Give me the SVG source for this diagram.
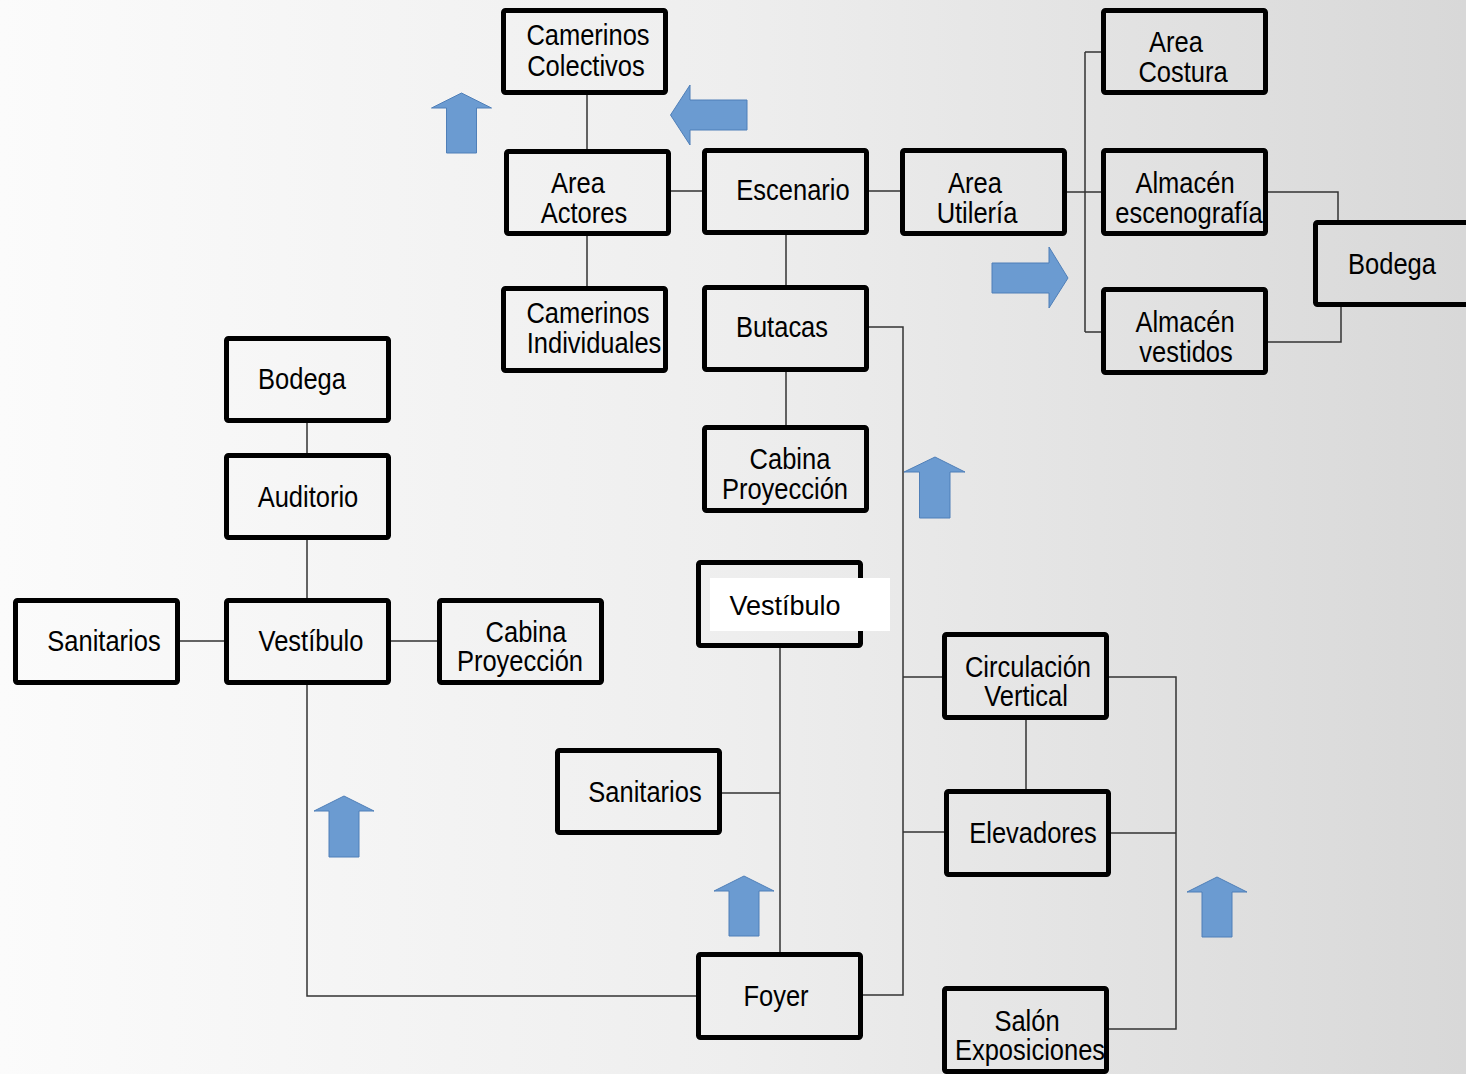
<svg xmlns="http://www.w3.org/2000/svg" width="1466" height="1074" viewBox="0 0 1466 1074">
<defs>
<linearGradient id="bg" x1="0" y1="0" x2="1" y2="0">
<stop offset="0" stop-color="#fbfbfb"/>
<stop offset="0.5" stop-color="#eeeeee"/>
<stop offset="1" stop-color="#d8d8d8"/>
</linearGradient>
<style>
.box{fill:none;stroke:#000;stroke-width:5;}
.t{font-family:"Liberation Sans",Arial,sans-serif;font-size:30px;fill:#000;text-anchor:middle;}
.r{font-family:"Liberation Sans",Arial,sans-serif;font-size:27px;fill:#000;text-anchor:middle;}
.c{fill:none;stroke:#333;stroke-width:1.5;}
.a{fill:#6b9bd1;stroke:#4f7fb8;stroke-width:1;}
</style>
</defs>
<rect x="0" y="0" width="1466" height="1074" fill="url(#bg)"/>

<g id="connectors">
<path class="c" d="M587 95V149M587 236V286M670 191H702M869 191H900M786 235V285M786 372V425"/>
<path class="c" d="M1067 192H1085M1085 52V332M1085 52H1101M1085 192H1101M1085 332H1101"/>
<path class="c" d="M1268 192H1338V220M1268 342H1341V307"/>
<path class="c" d="M869 327H903V995H863M903 677H942M903 832H944"/>
<path class="c" d="M1109 677H1176V1029H1109M1111 833H1176M1026 720V789"/>
<path class="c" d="M780 648V952M722 793H780"/>
<path class="c" d="M307 423V453M307 540V598M180 641H224M391 641H437M307 685V996H696"/>
</g>

<g id="arrows">
<path class="a" d="M461.5 93L491.5 108H476.5V153H446.5V108H431.5Z"/>
<path class="a" d="M670.5 115L690 85V100H747V130H690V145Z"/>
<path class="a" d="M1068 278L1049 247V263H992V293H1049V308Z"/>
<path class="a" d="M935 457L965 472H950V518H919.5V472H904Z"/>
<path class="a" d="M344 796L374 811H359V857H329V811H314Z"/>
<path class="a" d="M744 876L774 891H759V936H729V891H714Z"/>
<path class="a" d="M1217 877L1247 892H1232V937H1202V892H1187Z"/>
</g>

<g id="camerinos-colectivos"><rect class="box" x="503.5" y="10.5" width="162" height="82" rx="2"/>
<text class="t" transform="translate(588 45) scale(0.85 1)">Camerinos</text>
<text class="t" transform="translate(586 76) scale(0.85 1)">Colectivos</text></g>

<g id="area-actores"><rect class="box" x="506.5" y="151.5" width="162" height="82" rx="2"/>
<text class="t" transform="translate(578 193) scale(0.85 1)">Area</text>
<text class="t" transform="translate(584 223) scale(0.85 1)">Actores</text></g>

<g id="camerinos-individuales"><rect class="box" x="503.5" y="288.5" width="162" height="82" rx="2"/>
<text class="t" transform="translate(588 323) scale(0.85 1)">Camerinos</text>
<text class="t" transform="translate(594 353) scale(0.85 1)">Individuales</text></g>

<g id="escenario"><rect class="box" x="704.5" y="150.5" width="162" height="82" rx="2"/>
<text class="t" transform="translate(793 200) scale(0.85 1)">Escenario</text></g>

<g id="butacas"><rect class="box" x="704.5" y="287.5" width="162" height="82" rx="2"/>
<text class="t" transform="translate(782 337) scale(0.85 1)">Butacas</text></g>

<g id="cabina-proyeccion-1"><rect class="box" x="704.5" y="427.5" width="162" height="83" rx="2"/>
<text class="t" transform="translate(790 469) scale(0.85 1)">Cabina</text>
<text class="t" transform="translate(785 499) scale(0.85 1)">Proyección</text></g>

<g id="area-utileria"><rect class="box" x="902.5" y="150.5" width="162" height="83" rx="2"/>
<text class="t" transform="translate(975 193) scale(0.85 1)">Area</text>
<text class="t" transform="translate(977 223) scale(0.85 1)">Utilería</text></g>

<g id="area-costura"><rect class="box" x="1103.5" y="10.5" width="162" height="82" rx="2"/>
<text class="t" transform="translate(1176 52) scale(0.85 1)">Area</text>
<text class="t" transform="translate(1183 82) scale(0.85 1)">Costura</text></g>

<g id="almacen-escenografia"><rect class="box" x="1103.5" y="150.5" width="162" height="83" rx="2"/>
<text class="t" transform="translate(1185 193) scale(0.85 1)">Almacén</text>
<text class="t" transform="translate(1189 223) scale(0.85 1)">escenografía</text></g>

<g id="almacen-vestidos"><rect class="box" x="1103.5" y="289.5" width="162" height="83" rx="2"/>
<text class="t" transform="translate(1185 332) scale(0.85 1)">Almacén</text>
<text class="t" transform="translate(1186 362) scale(0.85 1)">vestidos</text></g>

<g id="bodega-1"><rect class="box" x="1315.5" y="222.5" width="162" height="82" rx="2"/>
<text class="t" transform="translate(1392 274) scale(0.85 1)">Bodega</text></g>

<g id="bodega-2"><rect class="box" x="226.5" y="338.5" width="162" height="82" rx="2"/>
<text class="t" transform="translate(302 389) scale(0.85 1)">Bodega</text></g>

<g id="auditorio"><rect class="box" x="226.5" y="455.5" width="162" height="82" rx="2"/>
<text class="t" transform="translate(308 507) scale(0.85 1)">Auditorio</text></g>

<g id="vestibulo-1"><rect class="box" x="226.5" y="600.5" width="162" height="82" rx="2"/>
<text class="t" transform="translate(311 651) scale(0.85 1)">Vestíbulo</text></g>

<g id="sanitarios-1"><rect class="box" x="15.5" y="600.5" width="162" height="82" rx="2"/>
<text class="t" transform="translate(104 651) scale(0.85 1)">Sanitarios</text></g>

<g id="cabina-proyeccion-2"><rect class="box" x="439.5" y="600.5" width="162" height="82" rx="2"/>
<text class="t" transform="translate(526 642) scale(0.85 1)">Cabina</text>
<text class="t" transform="translate(520 671) scale(0.85 1)">Proyección</text></g>

<g id="vestibulo-2"><rect class="box" x="698.5" y="562.5" width="162" height="83" rx="2"/>
<rect x="710" y="578" width="180" height="53" fill="#fff"/>
<text class="r" x="785" y="615">Vestíbulo</text></g>

<g id="sanitarios-2"><rect class="box" x="557.5" y="750.5" width="162" height="82" rx="2"/>
<text class="t" transform="translate(645 802) scale(0.85 1)">Sanitarios</text></g>

<g id="foyer"><rect class="box" x="698.5" y="954.5" width="162" height="83" rx="2"/>
<text class="t" transform="translate(776 1006) scale(0.85 1)">Foyer</text></g>

<g id="circulacion-vertical"><rect class="box" x="944.5" y="634.5" width="162" height="83" rx="2"/>
<text class="t" transform="translate(1028 677) scale(0.85 1)">Circulación</text>
<text class="t" transform="translate(1026 706) scale(0.85 1)">Vertical</text></g>

<g id="elevadores"><rect class="box" x="946.5" y="791.5" width="162" height="83" rx="2"/>
<text class="t" transform="translate(1033 843) scale(0.85 1)">Elevadores</text></g>

<g id="salon-exposiciones"><rect class="box" x="944.5" y="988.5" width="162" height="83" rx="2"/>
<text class="t" transform="translate(1027 1031) scale(0.85 1)">Salón</text>
<text class="t" transform="translate(1030 1060) scale(0.85 1)">Exposiciones</text></g>
</svg>
